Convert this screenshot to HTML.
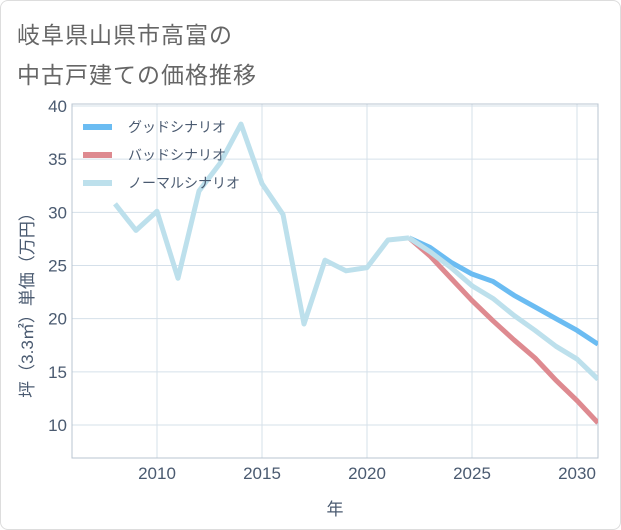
<!DOCTYPE html>
<html><head><meta charset="utf-8"><style>
body{margin:0;background:#fff;font-family:"Liberation Sans","Noto Sans CJK JP",sans-serif}
#wrap{position:relative;width:619px;height:528px;border:1px solid #ddd;border-radius:8px;overflow:hidden}
.title{position:absolute;left:16px;font-size:23px;color:#666;letter-spacing:1px}
</style></head><body>
<div id="wrap">
<div class="title" style="top:15px">岐阜県山県市高富の</div>
<div class="title" style="top:55px">中古戸建ての価格推移</div>
<svg id="chart" width="621" height="530" style="position:absolute;left:0;top:0"></svg>
</div>
<script>
const years=[2008,2009,2010,2011,2012,2013,2014,2015,2016,2017,2018,2019,2020,2021,2022];
const hist=[30.8,28.3,30.1,23.8,32,34.6,38.3,32.7,29.8,19.5,25.5,24.5,24.8,27.4,27.6];
const fYears=[2022,2023,2024,2025,2026,2027,2028,2029,2030,2031];
const good=[27.6,26.7,25.3,24.2,23.5,22.2,21.1,20.0,18.9,17.6];
const bad=[27.6,25.9,23.8,21.7,19.8,18.0,16.3,14.2,12.3,10.2];
const normal=[27.6,26.3,24.8,23.1,21.9,20.3,18.9,17.4,16.2,14.3];
const xTicks=[2010,2015,2020,2025,2030];
const yTicks=[10,15,20,25,30,35,40];
const L=71,R=597,T=103,B=457;
const X=y=>156+(y-2010)*21;
const Y=v=>424-(v-10)*(319/30);
const svg=document.getElementById('chart');const NS='http://www.w3.org/2000/svg';
function mk(t,a){const e=document.createElementNS(NS,t);for(const k in a)e.setAttribute(k,a[k]);svg.appendChild(e);return e;}
const defs=mk('defs',{});const cp=document.createElementNS(NS,'clipPath');cp.setAttribute('id','c');defs.appendChild(cp);
const cr=document.createElementNS(NS,'rect');cr.setAttribute('x',L);cr.setAttribute('y',T);cr.setAttribute('width',R-L);cr.setAttribute('height',B-T);cp.appendChild(cr);
yTicks.forEach(v=>{
const g=mk('line',{x1:L,x2:R,y1:Y(v),y2:Y(v),stroke:'#d5e0ea','stroke-width':1});


const t=mk('text',{x:L-5,y:Y(v)+6,'text-anchor':'end','font-size':17,fill:'#4a5a70'});t.textContent=v;


});
xTicks.forEach(v=>{
const g=mk('line',{x1:X(v),x2:X(v),y1:T,y2:B,stroke:'#d5e0ea','stroke-width':1});


const t=mk('text',{x:X(v),y:B+21,'text-anchor':'middle','font-size':17,fill:'#4a5a70'});t.textContent=v;


});
const fr=mk('rect',{x:L,y:T,width:R-L,height:B-T,fill:'none',stroke:'#b8c4d0'});


function line(xs,vs,col,name){const p=mk('polyline',{points:xs.map((x,i)=>X(x)+','+Y(vs[i])).join(' '),fill:'none',stroke:col,'stroke-width':5,'stroke-linejoin':'round','clip-path':'url(#c)'});

}
line(fYears,good,'#6bbcf2','good-scenario-line');
line(fYears,bad,'#de8a90','bad-scenario-line');
line(fYears,normal,'#bde0ec','normal-scenario-forecast-line');
line(years,hist,'#bde0ec','normal-scenario-history-line');
[['グッドシナリオ','#6bbcf2'],['バッドシナリオ','#de8a90'],['ノーマルシナリオ','#bde0ec']].forEach((d,i)=>{
const yy=126+i*28;
const l=mk('line',{x1:82,x2:111,y1:yy,y2:yy,stroke:d[1],'stroke-width':6});


const t=mk('text',{x:127,y:yy+5,'font-size':14,fill:'#4a5a70'});t.textContent=d[0];


});
const xt=mk('text',{x:334,y:514,'text-anchor':'middle','font-size':17,fill:'#4a5a70'});xt.textContent='年';


const yt=mk('text',{x:0,y:0,'text-anchor':'middle','font-size':17,fill:'#4a5a70',transform:'translate(32,300) rotate(-90)'});yt.textContent='坪（3.3㎡）単価（万円）';


</script>
</body></html>
